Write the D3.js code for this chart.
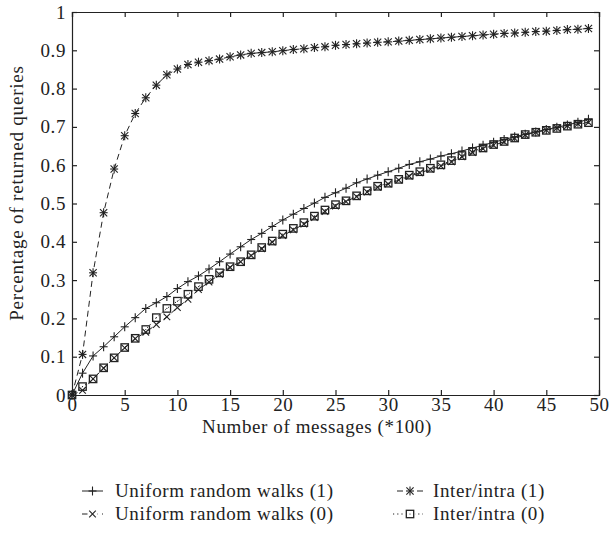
<!DOCTYPE html>
<html>
<head>
<meta charset="utf-8">
<script src="https://cdn.jsdelivr.net/npm/d3@7"></script>
<style>
  body { margin: 0; background: #fff; }
  text { font-family: "Liberation Serif", "Times New Roman", serif; fill: #222; }
</style>
</head>
<body>
<div id="chart"></div>
<script>
// x positions: number of messages (*100)
var steps = d3.range(0, 50);

var uniform1 = [0, 0.057, 0.102, 0.126, 0.152, 0.178, 0.202, 0.226, 0.241, 0.257,
  0.278, 0.296, 0.311, 0.329, 0.348, 0.368, 0.387, 0.406, 0.422, 0.44,
  0.457, 0.472, 0.487, 0.501, 0.516, 0.528, 0.54, 0.554, 0.564, 0.574,
  0.583, 0.592, 0.602, 0.609, 0.616, 0.624, 0.63, 0.637, 0.645, 0.652,
  0.66, 0.667, 0.674, 0.681, 0.687, 0.693, 0.699, 0.705, 0.712, 0.72];

var uniform0 = [0, 0.012, 0.042, 0.07, 0.097, 0.123, 0.147, 0.164, 0.184, 0.204,
  0.228, 0.25, 0.275, 0.295, 0.315, 0.333, 0.348, 0.364, 0.382, 0.399,
  0.416, 0.431, 0.446, 0.463, 0.479, 0.493, 0.505, 0.518, 0.53, 0.542,
  0.551, 0.561, 0.571, 0.58, 0.589, 0.598, 0.609, 0.622, 0.633, 0.643,
  0.652, 0.661, 0.67, 0.679, 0.686, 0.692, 0.697, 0.703, 0.708, 0.712];

var inter1 = [0, 0.106, 0.319, 0.476, 0.59, 0.677, 0.735, 0.776, 0.809, 0.836,
  0.851, 0.863, 0.869, 0.873, 0.877, 0.883, 0.888, 0.892, 0.894, 0.896,
  0.899, 0.902, 0.904, 0.907, 0.909, 0.913, 0.915, 0.917, 0.919, 0.921,
  0.922, 0.924, 0.926, 0.928, 0.93, 0.932, 0.934, 0.936, 0.938, 0.94,
  0.942, 0.944, 0.945, 0.947, 0.949, 0.95, 0.952, 0.954, 0.955, 0.957];

var inter0 = [0, 0.022, 0.042, 0.071, 0.097, 0.124, 0.148, 0.171, 0.202, 0.226,
  0.245, 0.263, 0.283, 0.302, 0.319, 0.335, 0.348, 0.366, 0.385, 0.402,
  0.42, 0.435, 0.45, 0.467, 0.483, 0.497, 0.507, 0.52, 0.533, 0.545,
  0.553, 0.563, 0.574, 0.583, 0.592, 0.601, 0.612, 0.625, 0.636, 0.645,
  0.654, 0.662, 0.671, 0.68, 0.686, 0.691, 0.696, 0.702, 0.707, 0.711];

var xTicks = [0, 5, 10, 15, 20, 25, 30, 35, 40, 45, 50];
var yTicks = [0, 0.1, 0.2, 0.3, 0.4, 0.5, 0.6, 0.7, 0.8, 0.9, 1];
var yTickLabels = ["0", "0.1", "0.2", "0.3", "0.4", "0.5", "0.6", "0.7", "0.8", "0.9", "1"];

var seriesNames = ["Uniform random walks (1)", "Uniform random walks (0)", "Inter/intra (1)", "Inter/intra (0)"];

var W = 611, H = 535;
var margin = {left: 72, right: 12, top: 12, bottom: 140};
var ink = "#222";
var fontSize = "19px";
var spacing = "0.6px";

var svg = d3.select("#chart").append("svg")
  .attr("width", W).attr("height", H)
  .style("background", "#fff");

var x = d3.scaleLinear().domain([0, 50]).range([margin.left, W - margin.right]);
var y = d3.scaleLinear().domain([0, 1]).range([H - margin.bottom, margin.top]);

// markers
function drawMarker(g, type) {
  var s = 4;
  if (type == "plus" || type == "star") {
    g.append("line").attr("x1", -s).attr("x2", s).attr("y1", 0).attr("y2", 0);
    g.append("line").attr("x1", 0).attr("x2", 0).attr("y1", -s - 0.5).attr("y2", s + 0.5);
  }
  if (type == "cross" || type == "star") {
    var c = type == "star" ? 3.6 : 3.3;
    g.append("line").attr("x1", -c).attr("x2", c).attr("y1", -c).attr("y2", c);
    g.append("line").attr("x1", -c).attr("x2", c).attr("y1", c).attr("y2", -c);
  }
  if (type == "square") {
    g.append("rect").attr("x", -3.7).attr("y", -3.7).attr("width", 7.4).attr("height", 7.4)
      .attr("fill", "none").attr("stroke-width", 1.3);
    g.append("circle").attr("r", 0.6).attr("fill", ink).attr("stroke", "none");
  }
}

var series = [
  {name: seriesNames[0], values: uniform1, dash: null, marker: "plus"},
  {name: seriesNames[1], values: uniform0, dash: "6,4", marker: "cross"},
  {name: seriesNames[2], values: inter1, dash: "6,4", marker: "star"},
  {name: seriesNames[3], values: inter0, dash: "1.2,3", marker: "square"}
];

var line = d3.line()
  .x(function(d, i) { return x(steps[i]); })
  .y(function(d) { return y(d); });

var plot = svg.append("g");

series.forEach(function(s) {
  plot.append("path")
    .attr("d", line(s.values))
    .attr("fill", "none")
    .attr("stroke", ink)
    .attr("stroke-width", 1)
    .attr("stroke-dasharray", s.dash);

  plot.append("g").selectAll("g")
    .data(s.values)
    .enter().append("g")
    .attr("transform", function(d, i) { return "translate(" + x(steps[i]) + "," + y(d) + ")"; })
    .attr("stroke", ink)
    .attr("stroke-width", 1.1)
    .each(function() { drawMarker(d3.select(this), s.marker); });
});

// axes (ticks point inward)
var gx = svg.append("g")
  .attr("transform", "translate(0," + y(0) + ")")
  .call(d3.axisBottom(x).tickValues(xTicks).tickSize(-5).tickPadding(2).tickFormat(function(d) { return d; }));
var gy = svg.append("g")
  .attr("transform", "translate(" + x(0) + ",0)")
  .call(d3.axisLeft(y).tickValues(yTicks).tickSize(-5).tickPadding(6)
    .tickFormat(function(d, i) { return yTickLabels[i]; }));
var gt = svg.append("g")
  .attr("transform", "translate(0," + y(1) + ")")
  .call(d3.axisTop(x).tickValues(xTicks).tickSize(-5).tickFormat(""));
var gr = svg.append("g")
  .attr("transform", "translate(" + x(50) + ",0)")
  .call(d3.axisRight(y).tickValues(yTicks).tickSize(-5).tickFormat(""));

[gx, gy, gt, gr].forEach(function(g) {
  g.select(".domain").attr("stroke", ink).attr("stroke-width", 1.2);
  g.selectAll(".tick line").attr("stroke", ink).attr("stroke-width", 1.2);
  g.selectAll(".tick text")
    .attr("fill", ink)
    .style("font-family", "'Liberation Serif', serif")
    .style("font-size", fontSize)
    .style("letter-spacing", spacing);
});

// axis titles
svg.append("text")
  .attr("x", 317)
  .attr("y", 433)
  .attr("text-anchor", "middle")
  .style("font-size", fontSize)
  .style("letter-spacing", spacing)
  .text("Number of messages (*100)");

svg.append("text")
  .attr("transform", "translate(23,193) rotate(-90)")
  .attr("text-anchor", "middle")
  .style("font-size", fontSize)
  .style("letter-spacing", "0.8px")
  .text("Percentage of returned queries");

// legend
var legendPos = [
  {x: 82, y: 491, x2: 21, tx: 33},
  {x: 82, y: 514, x2: 21, tx: 33},
  {x: 397, y: 491, x2: 26, tx: 36},
  {x: 397, y: 514, x2: 26, tx: 36}
];

series.forEach(function(s, i) {
  var p = legendPos[i];
  var lg = svg.append("g").attr("transform", "translate(" + p.x + "," + p.y + ")");
  var x0 = s.marker == "square" ? -4 : 0;
  lg.append("line")
    .attr("x1", x0).attr("x2", p.x2)
    .attr("y1", 0).attr("y2", 0)
    .attr("stroke", ink)
    .attr("stroke-width", 1)
    .attr("stroke-dasharray", s.dash);
  var mk = lg.append("g").attr("transform", "translate(" + (p.x2 / 2) + ",0)")
    .attr("stroke", ink).attr("stroke-width", 1.1);
  if (s.marker != "plus") {
    mk.insert("rect", ":first-child").attr("x", -5).attr("y", -5).attr("width", 10).attr("height", 10)
      .attr("fill", "#fff").attr("stroke", "none");
  }
  drawMarker(mk, s.marker);
  lg.append("text")
    .attr("x", p.tx)
    .attr("y", 6)
    .style("font-size", fontSize)
    .style("letter-spacing", spacing)
    .text(s.name);
});
</script>
</body>
</html>
